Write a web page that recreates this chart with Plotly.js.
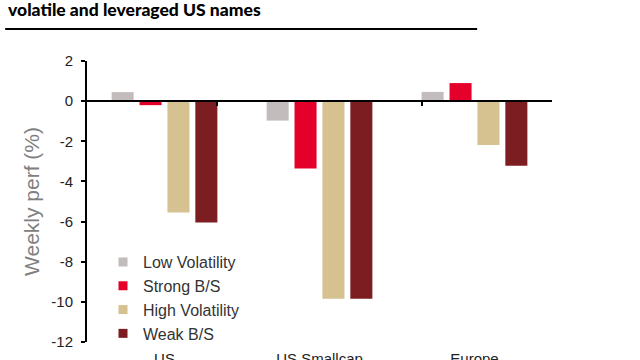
<!DOCTYPE html>
<html><head><meta charset="utf-8">
<script src="https://cdn.plot.ly/plotly-3.0.1.min.js"></script>
<style>html,body{margin:0;padding:0;background:#fff}#c{width:640px;height:360px}</style>
</head><body><div id="c"></div>
<script>
const categories = ["US", "US Smallcap", "Europe"];
const seriesNames = ["Low Volatility", "Strong B/S", "High Volatility", "Weak B/S"];
const lowVol = [0.45, -0.97, 0.46];
const strongBS = [-0.2, -3.35, 0.9];
const highVol = [-5.55, -9.85, -2.18];
const weakBS = [-6.05, -9.85, -3.22];
const seriesColors = ['#c2bcbc', '#e4002b', '#d6c290', '#7c1d21'];
const yTicks = [2, 0, -2, -4, -6, -8, -10, -12];
const yMin = -12, yMax = 2;

const values = [lowVol, strongBS, highVol, weakBS];
const data = [];
values.forEach((v, i) => data.push({type:'bar', name:seriesNames[i], x:categories, y:v, marker:{color:seriesColors[i]}, hoverinfo:'skip', showlegend:false}));
values.forEach((v, i) => data.push({type:'scatter', mode:'markers', name:seriesNames[i], x:categories, y:categories.map(()=>null), marker:{symbol:'square', size:9, color:seriesColors[i]}, hoverinfo:'skip', showlegend:true}));
data.push({type:'scatter', x:categories, y:categories.map(()=>null), xaxis:'x2', yaxis:'y', showlegend:false, hoverinfo:'skip', mode:'markers'});

const zeroPos = (0 - yMin) / (yMax - yMin);
const layout = {
  width:640, height:360,
  margin:{l:87, r:88, t:61, b:18, autoexpand:false},
  paper_bgcolor:'#fff', plot_bgcolor:'#fff',
  barmode:'group', bargap:0.28, bargroupgap:0.21,
  font:{family:'Liberation Sans, Arial, sans-serif', color:'#222'},
  showlegend:true,
  legend:{x:0.0344, y:0.345, xanchor:'left', yanchor:'top', bgcolor:'rgba(0,0,0,0)', font:{size:16, color:'#333'}, tracegroupgap:0, itemwidth:30},
  xaxis:{type:'category', automargin:false, showline:false, showgrid:false, zeroline:false, ticks:'', tickfont:{size:15, color:'#222'}, ticklabelstandoff:6},
  xaxis2:{type:'category', overlaying:'x', anchor:'free', position:zeroPos, side:'bottom', automargin:false, showline:true, linecolor:'#000', linewidth:2, ticks:'outside', tickson:'boundaries', ticklen:4, tickwidth:2, tickcolor:'#000', showticklabels:false, showgrid:false, zeroline:false},
  yaxis:{range:[yMin, yMax], automargin:false, tickvals:yTicks, ticktext:yTicks.map(String), showline:true, linecolor:'#000', linewidth:2, ticks:'outside', ticklen:4, tickwidth:2, tickcolor:'#000', showgrid:false, zeroline:false, tickfont:{size:15, color:'#222'}, ticklabelstandoff:5,
    title:{text:'Weekly perf (%)', font:{size:21, color:'#808080'}, standoff:6}},
  title:{text:'volatile and leveraged US names', x:0.0125, xanchor:'left', y:0.99, yanchor:'top', font:{family:'Lato, sans-serif', size:17.5, weight:900, color:'#000'}},
  shapes:[{type:'line', xref:'paper', yref:'paper', x0:-0.176, x1:0.839, y0:1+32/281, y1:1+32/281, line:{color:'#000', width:2}}]
};
Plotly.newPlot('c', data, layout, {staticPlot:true});
</script></body></html>
